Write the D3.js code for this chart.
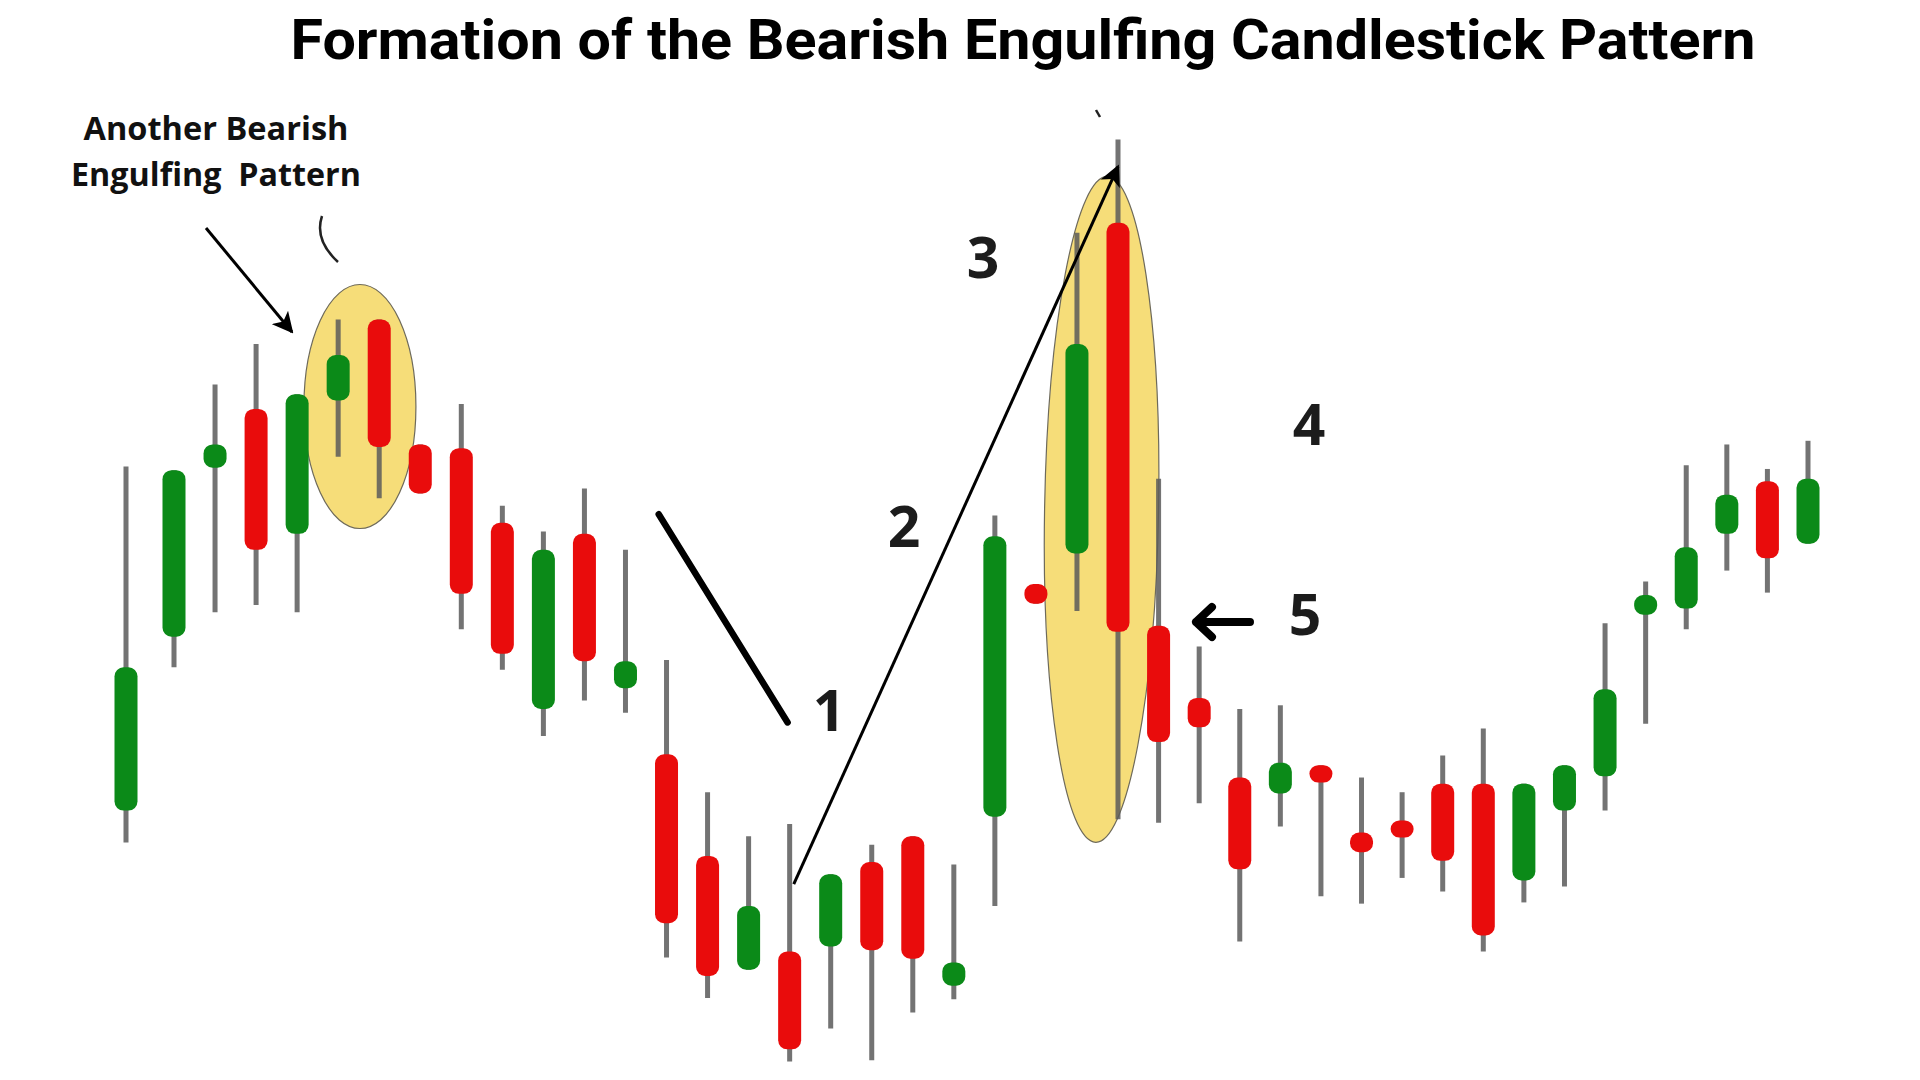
<html>
<head>
<title>Bearish Engulfing</title>
<script src="https://d3js.org/d3.v7.min.js"></script>
<style>
  body { margin: 0; background: #ffffff; }
  svg { display: block; }
</style>
</head>
<body>
<div id="chart"></div>
<script type="text/javascript">
    // candle data (arbitrary price units)
    var colours = ["G","G","G","R","G","G","R","R","R","R","G","R","G","R","R","G","R","G","R","R","G",
                   "G","R","G","R","R","R","R","G","R","R","R","R","R","G","G","G","G","G","G","R","G"];
    var opens  = [23.8,38.0,51.8,56.6,46.4,57.3,63.9,53.7,53.4,47.3,32.1,46.4,33.8,28.4,20.1,10.8,12.3,12.7,19.6,21.7,9.5,
                  23.3,42.3,44.8,71.8,38.9,33.0,26.5,25.2,27.5,22.0,23.0,26.0,26.0,18.1,23.8,26.6,39.8,40.3,46.4,50.7,45.6];
    var closes = [35.5,51.6,53.7,45.1,57.8,61.0,53.5,49.7,41.5,36.6,45.1,36.0,36.0,14.6,10.3,16.0,4.3,18.6,12.4,11.7,11.4,
                  46.2,40.7,61.9,38.4,29.4,30.6,19.0,27.7,26.1,20.4,21.6,19.7,13.6,26.0,27.5,33.7,41.4,45.3,49.6,44.4,50.9];
    var highs  = [51.9,51.6,58.6,61.9,57.8,63.9,63.9,53.7,57.0,48.7,46.6,50.1,45.1,36.1,25.3,21.7,22.7,18.6,21.0,21.7,19.4,
                  47.9,42.3,71.0,78.6,50.9,37.2,32.1,32.4,27.5,26.5,25.3,28.3,30.5,26.0,27.5,39.1,42.5,52.0,53.7,51.7,54.0];
    var lows   = [21.2,35.5,40.0,40.6,40.0,52.7,49.3,49.7,38.6,35.3,29.9,32.8,31.8,11.8,8.5,10.8,3.3,6.0,3.4,7.3,8.4,
                  16.0,40.7,40.1,23.1,22.8,24.4,13.1,22.5,16.8,16.2,18.3,17.2,12.3,16.3,17.6,23.8,30.9,38.6,43.4,41.6,45.6];

    // text
    var title = "Formation of the Bearish Engulfing Candlestick Pattern";
    var noteLines = ["Another Bearish", "Engulfing  Pattern"];
    var stepLabels = ["1", "2", "3", "4", "5"];

    var width = 1920, height = 1080;
    var green = "#0b8a18", red = "#e90c0c", wickColour = "#5a5a5a";

    var candles = opens.map(function(o, i) {
        return {i: i, open: o, close: closes[i], high: highs[i], low: lows[i], up: colours[i] == "G"};
    });

    // the hand-drawn spacing is not quite even, so the index scale bends a little
    var x = d3.scaleLinear().domain([0, 1, 24, 41]).range([126, 174, 1118, 1808]);
    var y = d3.scaleLinear().domain([0, 90]).range([1102, 0]);

    var svg = d3.select("#chart").append("svg")
        .attr("width", width)
        .attr("height", height);

    var defs = svg.append("defs");
    defs.append("marker")
        .attr("id", "head")
        .attr("viewBox", "0 0 10 10")
        .attr("refX", 9).attr("refY", 5)
        .attr("markerWidth", 7).attr("markerHeight", 7)
        .attr("markerUnits", "strokeWidth")
        .attr("orient", "auto")
        .append("path")
        .attr("d", "M0,0 L10,5 L0,10 L2.5,5 Z")
        .attr("fill", "#000");

    // yellow highlights behind the candles
    svg.append("ellipse")
        .attr("cx", x(5.53)).attr("cy", y(56.8))
        .attr("rx", 56).attr("ry", 122)
        .attr("fill", "#f6dd79").attr("stroke", "#6e6a5a").attr("stroke-width", 1.2);

    svg.append("ellipse")
        .attr("transform", "translate(" + x(23.6) + "," + y(48.4) + ") rotate(1)")
        .attr("rx", 57).attr("ry", 333)
        .attr("fill", "#f6dd79").attr("stroke", "#6e6a5a").attr("stroke-width", 1.2);

    // candles
    var g = svg.append("g");
    g.selectAll("line.wick")
        .data(candles)
        .enter().append("line")
        .attr("class", "wick")
        .attr("x1", function(d) { return x(d.i); })
        .attr("x2", function(d) { return x(d.i); })
        .attr("y1", function(d) { return y(d.high); })
        .attr("y2", function(d) { return y(d.low); })
        .attr("stroke", wickColour)
        .attr("stroke-opacity", 0.85)
        .attr("stroke-width", 5);

    var bodyW = 23;
    g.selectAll("rect.body")
        .data(candles)
        .enter().append("rect")
        .attr("class", "body")
        .attr("x", function(d) { return x(d.i) - bodyW / 2; })
        .attr("y", function(d) { return y(Math.max(d.open, d.close)); })
        .attr("width", bodyW)
        .attr("height", function(d) { return Math.abs(y(d.open) - y(d.close)); })
        .attr("rx", function(d) { return Math.min(9, Math.abs(y(d.open) - y(d.close)) / 2); })
        .attr("fill", function(d) { return d.up ? green : red; });

    // thick trend stroke before step 1
    svg.append("line")
        .attr("x1", x(12.81)).attr("y1", y(48.0))
        .attr("x2", x(15.95)).attr("y2", y(31.0))
        .attr("stroke", "#000").attr("stroke-width", 6.5).attr("stroke-linecap", "round");

    // long arrow up to the engulfing candle
    svg.append("line")
        .attr("x1", x(16.1)).attr("y1", y(17.8))
        .attr("x2", x(24)).attr("y2", y(76.4))
        .attr("stroke", "#000").attr("stroke-width", 3)
        .attr("marker-end", "url(#head)");

    // arrow to the first pattern
    svg.append("line")
        .attr("x1", 206).attr("y1", 228)
        .attr("x2", 292).attr("y2", 332)
        .attr("stroke", "#000").attr("stroke-width", 3)
        .attr("marker-end", "url(#head)");

    // arrow pointing at candle 5
    var ay = 622;
    svg.append("path")
        .attr("d", "M1250," + ay + " L1196," + ay + " M1212," + (ay - 15) + " L1196," + ay + " L1212," + (ay + 15))
        .attr("fill", "none").attr("stroke", "#000").attr("stroke-width", 8)
        .attr("stroke-linecap", "round").attr("stroke-linejoin", "round");

    // small stray pen marks from the drawing
    svg.append("path")
        .attr("d", "M322,216 Q314,240 338,262")
        .attr("fill", "none").attr("stroke", "#222").attr("stroke-width", 2.5);
    svg.append("path")
        .attr("d", "M1096,110 L1100,117")
        .attr("fill", "none").attr("stroke", "#222").attr("stroke-width", 2.5);

    // title
    svg.append("text")
        .attr("x", 1023).attr("y", 59)
        .attr("text-anchor", "middle")
        .attr("textLength", 1465).attr("lengthAdjust", "spacingAndGlyphs")
        .style("font-family", "Roboto, 'Open Sans', sans-serif")
        .style("font-weight", 700)
        .style("font-size", "55px")
        .attr("fill", "#000")
        .text(title);

    // note text, top left
    var noteLen = [265, 290];
    svg.selectAll("text.note")
        .data(noteLines)
        .enter().append("text")
        .attr("class", "note")
        .attr("x", 216)
        .attr("y", function(d, i) { return 140 + i * 46; })
        .attr("text-anchor", "middle")
        .attr("textLength", function(d, i) { return noteLen[i]; })
        .attr("lengthAdjust", "spacingAndGlyphs")
        .style("white-space", "pre")
        .style("font-family", "'Open Sans', sans-serif")
        .style("font-weight", 700)
        .style("font-size", "32px")
        .attr("fill", "#111")
        .text(function(d) { return d; });

    // step numbers
    var stepPos = [[829, 731], [904, 547], [983, 278], [1309, 445], [1305, 635]];
    svg.selectAll("text.step")
        .data(stepLabels)
        .enter().append("text")
        .attr("class", "step")
        .attr("x", function(d, i) { return stepPos[i][0]; })
        .attr("y", function(d, i) { return stepPos[i][1]; })
        .attr("text-anchor", "middle")
        .style("font-family", "'Open Sans', sans-serif")
        .style("font-weight", 700)
        .style("font-size", "57px")
        .attr("fill", "#1c1c1c")
        .text(function(d) { return d; });
</script>
</body>
</html>
